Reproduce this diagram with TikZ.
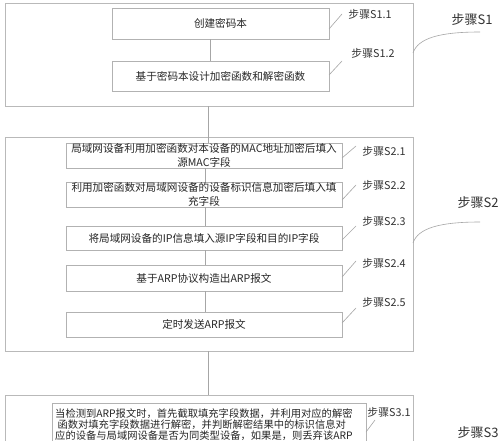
\documentclass[tikz,border=0pt]{standalone}
\usepackage{fontspec}
\setmainfont{Noto Sans CJK SC}
\begin{document}
\begin{tikzpicture}[x=1pt,y=-1pt,
  outer/.style={draw=gray!55, line width=0.9pt, fill=white, inner sep=0pt},
  box/.style={draw=gray!60, line width=0.6pt, fill=white, inner sep=0pt, align=center,
    text=black!85, font=\fontsize{10.6}{13.5}\selectfont},
  lab/.style={inner sep=0pt, text=black!80, font=\fontsize{10.8}{12}\selectfont},
  biglab/.style={inner sep=0pt, text=black!80, font=\fontsize{13}{14}\selectfont},
  conn/.style={draw=gray!70, line width=0.6pt},
  txt/.style={inner sep=0pt, align=left, text=black!85, font=\fontsize{10.3}{10.8}\selectfont}]
\useasboundingbox (0,0) rectangle (500,441);
\clip (0,0) rectangle (500,441);
\fill[white] (0,0) rectangle (500,441);

% outer step boxes
\node[outer, minimum width=408pt, minimum height=103pt] (s1) at (209,54.5) {};
\node[outer, minimum width=408pt, minimum height=214pt] (s2) at (209,244) {};
\node[outer, minimum width=408pt, minimum height=80pt, anchor=north west] (s3) at (5,395) {};

% axis coordinates
\coordinate (axA) at (210,0);
\coordinate (axB) at (208,0);
\coordinate (axC) at (205,0);

% step 1 boxes
\node[box, minimum width=217pt, minimum height=31pt] (b11) at (220.5,23.5) {创建密码本};
\node[box, minimum width=217pt, minimum height=30pt] (b12) at (220.5,76) {基于密码本设计加密函数和解密函数};

% step 2 boxes
\node[box, minimum width=276pt, minimum height=25pt] (b21) at (204,155.5) {局域网设备利用加密函数对本设备的MAC地址加密后填入\\源MAC字段};
\node[box, minimum width=276pt, minimum height=25pt] (b22) at (204,194.5) {利用加密函数对局域网设备的设备标识信息加密后填入填\\充字段};
\node[box, minimum width=276pt, minimum height=24pt] (b23) at (204,238) {将局域网设备的IP信息填入源IP字段和目的IP字段};
\node[box, minimum width=276pt, minimum height=26pt] (b24) at (204,278) {基于ARP协议构造出ARP报文};
\node[box, minimum width=276pt, minimum height=25pt] (b25) at (204,324.5) {定时发送ARP报文};

% step 3 box
\node[box, minimum width=314pt, minimum height=70pt, anchor=north west] (b31) at (52,403) {};
\node[txt, anchor=north west] (t31) at (55,408.5) {当检测到ARP报文时，首先截取填充字段数据，并利用对应的解密\\
\ 函数对填充字段数据进行解密，并判断解密结果中的标识信息对\\
应的设备与局域网设备是否为同类型设备，如果是，则丢弃该ARP};

% connectors
\draw[conn] (b11.south -| axA) -- (b12.north -| axA);
\draw[conn] (s1.south -| axB) -- (s2.north -| axB);
\draw[conn] (s2.north -| axB) -- (b21.north -| axB);
\draw[conn] (b21.south -| axC) -- (b22.north -| axC);
\draw[conn] (b22.south -| axC) -- (b23.north -| axC);
\draw[conn] (b23.south -| axC) -- (b24.north -| axC);
\draw[conn] (b24.south -| axC) -- (b25.north -| axC);
\draw[conn] (s2.south -| axB) -- (s3.north -| axB);

% labels
\node[lab] (l11) at (370,14) {步骤S1.1};
\node[lab] (l12) at (373,53) {步骤S1.2};
\node[biglab] (l1) at (472,20) {步骤S1};
\node[lab] (l21) at (384,151) {步骤S2.1};
\node[lab] (l22) at (384,185) {步骤S2.2};
\node[lab] (l23) at (384,221) {步骤S2.3};
\node[lab] (l24) at (384,263) {步骤S2.4};
\node[lab] (l25) at (384,302) {步骤S2.5};
\node[biglab] (l2) at (478,203) {步骤S2};
\node[lab] (l31) at (389,412) {步骤S3.1};
\node[biglab] (l3) at (478,433) {步骤S3};

% leader slashes
\coordinate (p11a) at (329,29);  \coordinate (p11b) at (342,14);
\coordinate (p12a) at (329,75);  \coordinate (p12b) at (342,61);
\coordinate (p21a) at (342,158); \coordinate (p21b) at (356,146);
\coordinate (p22a) at (342,200); \coordinate (p22b) at (356,185);
\coordinate (p23a) at (342,240); \coordinate (p23b) at (356,226);
\coordinate (p24a) at (342,277); \coordinate (p24b) at (356,261);
\coordinate (p25a) at (342,323); \coordinate (p25b) at (356,308);
\coordinate (p31a) at (366,432); \coordinate (p31b) at (375,420);
\foreach \p in {11,12,21,22,23,24,25,31}{
  \draw[conn] (p\p a) -- (p\p b);
}

% curved leaders to big labels
\coordinate (c1a) at (413,53);  \coordinate (c1b) at (480,32);
\coordinate (c2a) at (413,243); \coordinate (c2b) at (480,222);
\draw[conn] (c1a) .. controls (418,38) and (440,32) .. (c1b);
\draw[conn] (c2a) .. controls (418,228) and (440,222) .. (c2b);
\end{tikzpicture}
\end{document}
